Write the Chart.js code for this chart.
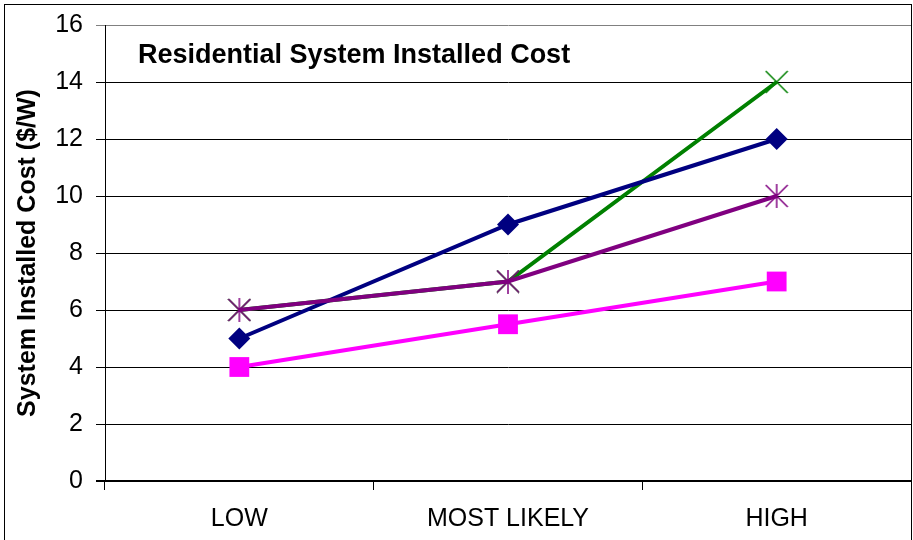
<!DOCTYPE html>
<html>
<head>
<meta charset="utf-8">
<script src="https://cdn.jsdelivr.net/npm/chart.js@4.4.0/dist/chart.umd.min.js"></script>
<style>
  body { margin: 0; background: #fff; }
  canvas { display: block; }
</style>
</head>
<body>
<canvas id="costChart" width="913" height="540"></canvas>
<script>
// Chart data
const categories = ['LOW', 'MOST LIKELY', 'HIGH'];
const seriesNavy = [5, 9, 12];
const seriesMagenta = [4, 5.5, 7];
const seriesGreen = [6, 7, 14];
const seriesPurple = [6, 7, 10];
const yTicks = [0, 2, 4, 6, 8, 10, 12, 14, 16];

const FONT = 'Arial, "Liberation Sans", sans-serif';

// Small canvases for the x and asterisk markers
function makeMarker(color, withVertical) {
  const c = document.createElement('canvas');
  c.width = 24;
  c.height = 24;
  const g = c.getContext('2d');
  g.strokeStyle = color;
  g.lineWidth = 1.5;
  g.beginPath();
  g.moveTo(1, 1); g.lineTo(23, 23);
  g.moveTo(23, 1); g.lineTo(1, 23);
  if (withVertical) {
    g.moveTo(12, 0); g.lineTo(12, 24);
  }
  g.stroke();
  return c;
}

// Fixed axis sizes, no extra label padding
function fixSize(prop, size) {
  return (scale) => {
    scale[prop] = size;
    scale.paddingTop = 0;
    scale.paddingBottom = 0;
    scale.paddingLeft = 0;
    scale.paddingRight = 0;
  };
}

// Title inside the plot area plus outer frame
const frame = {
  id: 'frame',
  afterDraw(chart) {
    const { ctx, chartArea } = chart;
    ctx.save();
    ctx.fillStyle = '#000';
    ctx.font = 'bold 27px ' + FONT;
    ctx.textBaseline = 'alphabetic';
    ctx.fillText('Residential System Installed Cost', chartArea.left + 33, 63);
    ctx.strokeStyle = '#808080';
    ctx.lineWidth = 1;
    ctx.beginPath();
    ctx.moveTo(chartArea.right + 0.5, chartArea.top);
    ctx.lineTo(chartArea.right + 0.5, chartArea.bottom);
    ctx.stroke();
    ctx.strokeStyle = '#000';
    ctx.strokeRect(4.5, 4.5, 907, 560);
    ctx.restore();
  },
};

new Chart(document.getElementById('costChart'), {
  type: 'line',
  data: {
    labels: categories,
    datasets: [
      {
        label: 'Navy',
        data: seriesNavy,
        borderColor: '#000080',
        backgroundColor: '#000080',
        borderWidth: 4,
        pointStyle: 'rectRot',
        pointRadius: 11,
        pointBorderWidth: 0,
        order: 2,
      },
      {
        label: 'Magenta',
        data: seriesMagenta,
        borderColor: '#FF00FF',
        backgroundColor: '#FF00FF',
        borderWidth: 4,
        pointStyle: 'rect',
        pointRadius: 14,
        pointBorderWidth: 0,
        order: 3,
      },
      {
        label: 'Green',
        data: seriesGreen,
        borderColor: '#008000',
        backgroundColor: '#008000',
        borderWidth: 4,
        pointStyle: makeMarker('#008000', false),
        order: 4,
      },
      {
        label: 'Purple',
        data: seriesPurple,
        borderColor: '#800080',
        backgroundColor: '#800080',
        borderWidth: 4,
        pointStyle: makeMarker('#800080', true),
        order: 1,
      },
    ],
  },
  options: {
    responsive: false,
    animation: false,
    layout: { autoPadding: false, padding: { left: 3, top: 25, right: 2, bottom: 0 } },
    plugins: {
      legend: { display: false },
      tooltip: { enabled: false },
    },
    scales: {
      x: {
        offset: true,
        afterFit: fixSize('height', 59),
        grid: {
          offset: true,
          drawOnChartArea: false,
          drawTicks: true,
          tickLength: 9,
          color: '#000',
        },
        border: { display: true, color: '#000', width: 2 },
        ticks: {
          color: '#000',
          font: { family: FONT, size: 25 },
          padding: 14,
          maxRotation: 0,
        },
      },
      y: {
        min: 0,
        max: 16,
        afterFit: fixSize('width', 102),
        afterBuildTicks: (scale) => {
          scale.ticks = yTicks.map((v) => ({ value: v }));
        },
        grid: {
          color: (c) => (c.tick && c.tick.value === 16 ? '#808080' : '#000'),
          lineWidth: (c) => (c.tick && c.tick.value === 0 ? 2 : 1),
          tickLength: 9,
        },
        border: { display: true, color: '#000', width: 1 },
        ticks: {
          color: '#000',
          font: { family: FONT, size: 25 },
          padding: 13,
        },
        title: {
          display: true,
          text: 'System Installed Cost ($/W)',
          color: '#000',
          font: { family: FONT, size: 25, weight: 'bold' },
          padding: { top: 10, bottom: 0 },
        },
      },
    },
  },
  plugins: [frame],
});
</script>
</body>
</html>
